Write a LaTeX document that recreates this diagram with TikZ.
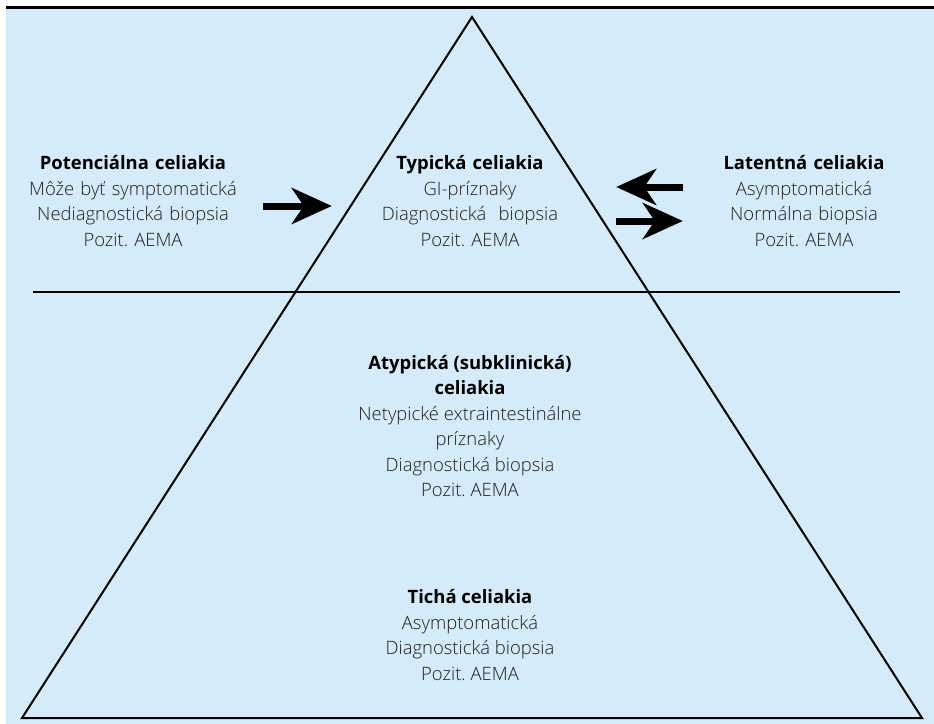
\documentclass[tikz,border=0pt]{standalone}
\usepackage{fontspec}
\setmainfont{Open Sans}[UprightFont=* Light,BoldFont=* Bold]
\usetikzlibrary{arrows.meta,positioning}
\definecolor{skyfill}{RGB}{213,235,249}
\definecolor{txtgray}{RGB}{30,30,30}
\tikzset{info/.style={align=center,inner sep=0pt,text=txtgray,font=\fontsize{18.5}{25.5}\selectfont\frenchspacing}}
\tikzset{fat/.style={draw,line width=7bp,-{Stealth[length=40bp,width=36bp,inset=12bp]}}}
\tikzset{edge/.style={draw,line width=2bp,line join=miter}}
\newcommand{\hd}[1]{\textbf{\color{black}#1}}

\begin{document}
\begin{tikzpicture}[x=1bp,y=-1bp]
    \useasboundingbox (0,0) rectangle (934,724);
    \fill[skyfill] (6,9) rectangle (934,724);
    \draw[line width=3bp] (6,8) -- (934,8);

    % pyramid
    \coordinate (apex) at (472,17);
    \coordinate (bl) at (22,718);
    \coordinate (br) at (922,718);
    \coordinate (cutl) at (33,292);
    \coordinate (cutr) at (900,292);
    \path[edge] (apex) -- (br) -- (bl) -- cycle;
    \path[edge] (cutl) -- (cutr);

    \node[info,text width=220bp] (typ) at (470,201) {\hd{Typická celiakia}\\ GI-príznaky\\ Diagnostická\ \ biopsia\\ Pozit. AEMA};
    \node[info,text width=240bp,left of=typ,node distance=337bp] (pot) {\hd{Potenciálna celiakia}\\ Môže byť symptomatická\\ Nediagnostická biopsia\\ Pozit. AEMA};
    \node[info,text width=200bp,right of=typ,node distance=334bp] (lat) {\hd{Latentná celiakia}\\ Asymptomatická\\ Normálna biopsia\\ Pozit. AEMA};

    \node[info,below of=typ,node distance=225bp] (atyp) {\hd{Atypická (subklinická)}\\ \hd{celiakia}\\ Netypické extraintestinálne\\ príznaky\\ Diagnostická biopsia\\ Pozit. AEMA};
    \node[info,below of=atyp,node distance=209bp] (tich) {\hd{Tichá celiakia}\\ Asymptomatická\\ Diagnostická biopsia\\ Pozit. AEMA};

    \path[fat,shorten <=10bp,shorten >=28bp] ([yshift=-5bp]pot.east) -- ([yshift=-5bp]typ.west);
    \path[fat,shorten <=21bp,shorten >=36bp] ([yshift=14bp]lat.west) -- ([yshift=14bp]typ.east);
    \path[fat,shorten <=36bp,shorten >=21bp] ([yshift=-20bp]typ.east) -- ([yshift=-20bp]lat.west);
\end{tikzpicture}
\end{document}
